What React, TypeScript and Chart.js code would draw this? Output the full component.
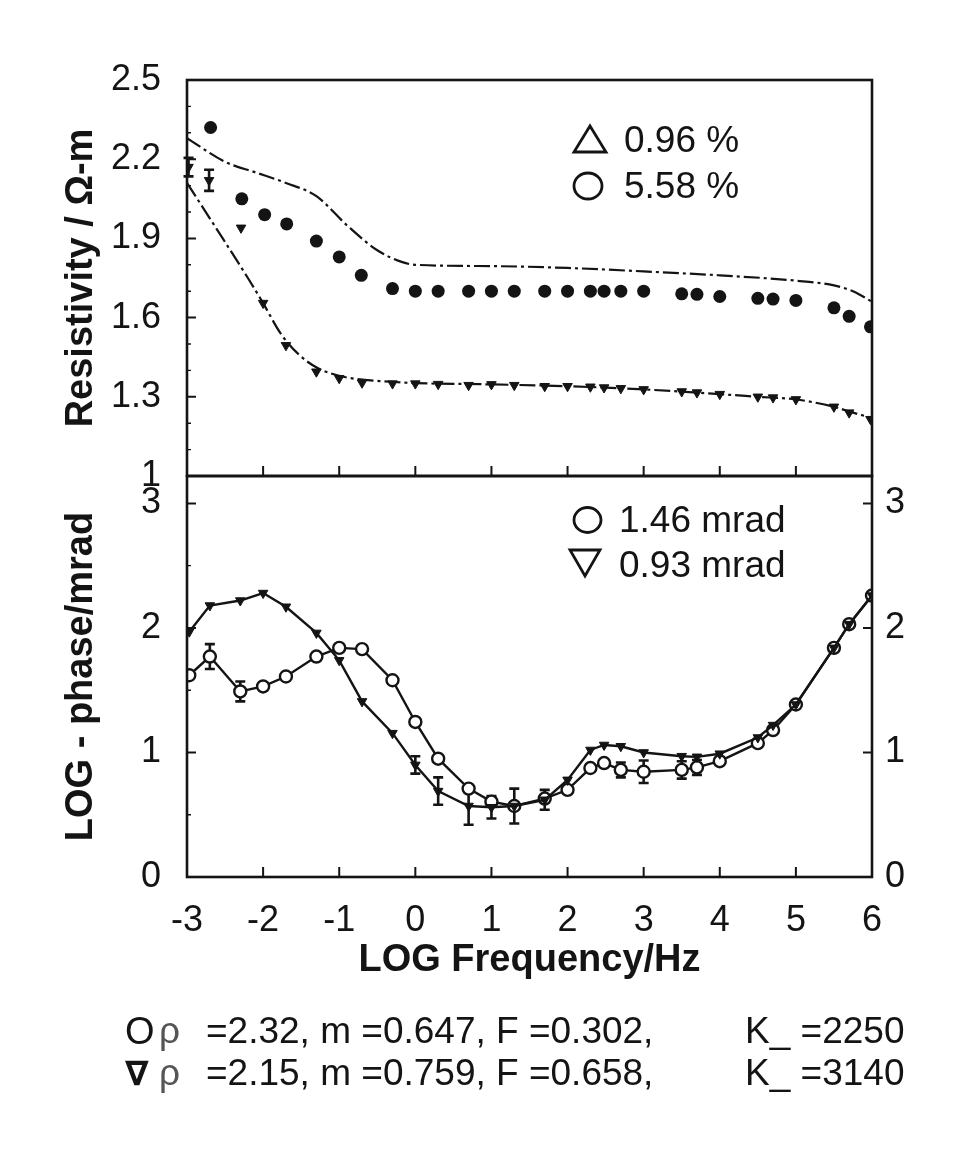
import React, { useEffect, useRef } from "react";
import { Chart, registerables } from "chart.js";

Chart.register(...registerables);

const FONT = "'Liberation Sans', Arial, Helvetica, sans-serif";
const INK = "#141414";

// ---------- axes / ticks ----------
const xTicks = [-3, -2, -1, 0, 1, 2, 3, 4, 5, 6];
const resTicks = [1, 1.3, 1.6, 1.9, 2.2, 2.5];
const resMinor = [1.1, 1.2, 1.4, 1.5, 1.7, 1.8, 2.0, 2.1, 2.3, 2.4];
const phaseTicks = [0, 1, 2, 3];
const phaseMinor = [0.5, 1.5, 2.5];

// ---------- top panel: resistivity ----------
const resCircleFreq = [-2.69, -2.28, -1.98, -1.69, -1.3, -1.0, -0.71, -0.3, 0.0, 0.3, 0.7, 1.0, 1.3, 1.7, 2.0, 2.3, 2.48, 2.7, 3.0, 3.5, 3.7, 4.0, 4.5, 4.7, 5.0, 5.5, 5.7, 5.98];
const resCircleVal = [2.32, 2.05, 1.99, 1.955, 1.89, 1.83, 1.76, 1.71, 1.7, 1.7, 1.7, 1.7, 1.7, 1.7, 1.7, 1.7, 1.7, 1.7, 1.7, 1.69, 1.688, 1.68, 1.673, 1.67, 1.665, 1.637, 1.605, 1.565];

const resTriFreq = [-2.98, -2.71, -2.29, -2.0, -1.7, -1.3, -1.0, -0.7, -0.3, 0.0, 0.3, 0.7, 1.0, 1.3, 1.7, 2.0, 2.3, 2.48, 2.7, 3.0, 3.5, 3.7, 4.0, 4.5, 4.7, 5.0, 5.5, 5.7, 5.98];
const resTriVal = [2.17, 2.12, 1.94, 1.655, 1.495, 1.395, 1.37, 1.353, 1.35, 1.35, 1.348, 1.344, 1.347, 1.344, 1.34, 1.34, 1.338, 1.335, 1.332, 1.328, 1.32, 1.316, 1.31, 1.3, 1.297, 1.29, 1.262, 1.24, 1.215];
const resTriErr = [0.035, 0.04, 0, 0, 0, 0, 0, 0, 0, 0, 0, 0, 0, 0, 0, 0, 0, 0, 0, 0, 0, 0, 0, 0, 0, 0, 0, 0, 0];

const fitUpperFreq = [-3, -2.5, -2.1, -1.7, -1.3, -0.9, -0.5, -0.17, 0, 1, 2, 3, 4, 5, 5.5, 5.75, 6];
const fitUpperVal = [2.28, 2.19, 2.15, 2.11, 2.06, 1.95, 1.855, 1.81, 1.8, 1.795, 1.788, 1.775, 1.76, 1.74, 1.722, 1.7, 1.66];
const fitLowerFreq = [-3, -2.62, -2.2, -2.0, -1.77, -1.53, -1.29, -0.93, -0.33, 0, 1, 2, 3, 4, 4.5, 5, 5.5, 5.75, 6];
const fitLowerVal = [2.11, 1.94, 1.75, 1.655, 1.54, 1.46, 1.41, 1.375, 1.357, 1.352, 1.347, 1.34, 1.328, 1.31, 1.3, 1.29, 1.262, 1.24, 1.22];

// ---------- bottom panel: phase ----------
const phaseFreq = [-2.97, -2.7, -2.3, -2.0, -1.7, -1.3, -1.0, -0.7, -0.3, 0.0, 0.3, 0.7, 1.0, 1.3, 1.7, 2.0, 2.3, 2.48, 2.7, 3.0, 3.5, 3.7, 4.0, 4.5, 4.7, 5.0, 5.5, 5.7, 6.0];
const phaseTriVal = [1.97, 2.18, 2.22, 2.28, 2.17, 1.96, 1.74, 1.41, 1.155, 0.9, 0.69, 0.57, 0.56, 0.57, 0.62, 0.78, 1.02, 1.06, 1.05, 1.0, 0.97, 0.965, 0.99, 1.12, 1.22, 1.385, 1.84, 2.03, 2.26];
const phaseTriErr = [0, 0, 0, 0, 0, 0, 0, 0, 0, 0.07, 0.11, 0.15, 0.09, 0.14, 0.08, 0, 0, 0, 0, 0, 0, 0, 0, 0, 0, 0, 0, 0, 0];
const phaseCircleVal = [1.62, 1.77, 1.49, 1.53, 1.61, 1.77, 1.84, 1.83, 1.58, 1.245, 0.95, 0.71, 0.605, 0.57, 0.63, 0.7, 0.875, 0.915, 0.86, 0.845, 0.86, 0.88, 0.93, 1.075, 1.18, 1.385, 1.84, 2.03, 2.26];
const phaseCircleErr = [0, 0.1, 0.08, 0, 0, 0, 0, 0, 0, 0, 0, 0, 0, 0, 0, 0, 0, 0, 0.06, 0.09, 0.07, 0.06, 0, 0, 0, 0, 0, 0, 0];

// ---------- text ----------
const resLegend = ["0.96 %", "5.58 %"];
const phaseLegend = ["1.46 mrad", "0.93 mrad"];
const paramLines = [
  { sym: "O", rest: "=2.32, m =0.647, F =0.302,", k: "K_ =2250" },
  { sym: "\u2207", rest: "=2.15, m =0.759, F =0.658,", k: "K_ =3140" },
];

const pts = (xs: number[], ys: number[]) => xs.map((x, i) => ({ x, y: ys[i] }));

type ErrSet = { xs: number[]; ys: number[]; errs: number[] };

function errorBarPlugin(sets: ErrSet[]) {
  return {
    id: "errorBars",
    beforeDatasetsDraw(chart: any) {
      const { ctx, scales } = chart;
      ctx.save();
      ctx.strokeStyle = INK;
      ctx.lineWidth = 2.6;
      for (const s of sets) {
        s.errs.forEach((e, i) => {
          if (!e) return;
          const px = scales.x.getPixelForValue(s.xs[i]);
          const top = scales.y.getPixelForValue(s.ys[i] + e);
          const bot = scales.y.getPixelForValue(s.ys[i] - e);
          ctx.beginPath();
          ctx.moveTo(px, top);
          ctx.lineTo(px, bot);
          ctx.moveTo(px - 5, top);
          ctx.lineTo(px + 5, top);
          ctx.moveTo(px - 5, bot);
          ctx.lineTo(px + 5, bot);
          ctx.stroke();
        });
      }
      ctx.restore();
    },
  };
}

function framePlugin(yMajor: number[], yMinor: number[], right: boolean) {
  return {
    id: "frameTicks",
    afterDatasetsDraw(chart: any) {
      const { ctx, chartArea: a, scales } = chart;
      ctx.save();
      ctx.strokeStyle = INK;
      ctx.lineWidth = 2.6;
      ctx.strokeRect(a.left, a.top, a.right - a.left, a.bottom - a.top);
      ctx.lineWidth = 2;
      ctx.beginPath();
      for (const v of xTicks) {
        const px = scales.x.getPixelForValue(v);
        ctx.moveTo(px, a.bottom);
        ctx.lineTo(px, a.bottom - 10);
      }
      for (const v of yMajor) {
        const py = scales.y.getPixelForValue(v);
        ctx.moveTo(a.left, py);
        ctx.lineTo(a.left + 9, py);
        if (right) {
          ctx.moveTo(a.right, py);
          ctx.lineTo(a.right - 9, py);
        }
      }
      ctx.stroke();
      ctx.lineWidth = 1.4;
      ctx.beginPath();
      for (const v of yMinor) {
        const py = scales.y.getPixelForValue(v);
        ctx.moveTo(a.left, py);
        ctx.lineTo(a.left + 4, py);
      }
      ctx.stroke();
      ctx.restore();
    },
  };
}

const tickFont = { family: FONT, size: 36 };
const titleFont = { family: FONT, size: 38, weight: "bold" as const };

function leftAxis(min: number, max: number, ticks: number[], title: string) {
  return {
    type: "linear" as const,
    position: "left" as const,
    min,
    max,
    afterBuildTicks: (s: any) => {
      s.ticks = ticks.map((v) => ({ value: v }));
    },
    afterFit: (s: any) => {
      s.width = 132;
    },
    grid: { display: false, drawTicks: false },
    border: { display: false },
    ticks: { padding: 26, color: INK, font: tickFont, callback: (v: any) => String(v) },
    title: { display: true, text: title, color: INK, font: titleFont, padding: { top: 4, bottom: 0 } },
  };
}

// Top canvas spans page y 30..526; plot area 80..476
function TopChart() {
  const ref = useRef<HTMLCanvasElement>(null);
  useEffect(() => {
    if (!ref.current) return;
    const chart = new Chart(ref.current, {
      type: "scatter",
      data: {
        datasets: [
          {
            data: pts(resCircleFreq, resCircleVal),
            showLine: false,
            pointRadius: 6.5,
            pointBackgroundColor: INK,
            pointBorderColor: INK,
            pointBorderWidth: 0,
          },
          {
            data: pts(resTriFreq, resTriVal),
            showLine: false,
            pointStyle: "triangle",
            pointRadius: 5.5,
            pointRotation: 180,
            pointBackgroundColor: INK,
            pointBorderColor: INK,
            pointBorderWidth: 1,
          },
          {
            data: pts(fitUpperFreq, fitUpperVal),
            showLine: true,
            pointRadius: 0,
            borderColor: INK,
            borderWidth: 2.2,
            borderDash: [16, 4, 3, 4],
            cubicInterpolationMode: "monotone",
          },
          {
            data: pts(fitLowerFreq, fitLowerVal),
            showLine: true,
            pointRadius: 0,
            borderColor: INK,
            borderWidth: 2.2,
            borderDash: [16, 4, 3, 4],
            cubicInterpolationMode: "monotone",
          },
        ],
      } as any,
      options: {
        animation: false,
        responsive: false,
        events: [],
        layout: { padding: { left: 55, right: 92, top: 50, bottom: 50 } },
        plugins: { legend: { display: false }, tooltip: { enabled: false } },
        scales: {
          x: { type: "linear", min: -3, max: 6, display: false },
          y: leftAxis(1, 2.5, resTicks, "Resistivity / \u03A9-m"),
        },
      } as any,
      plugins: [
        errorBarPlugin([{ xs: resTriFreq, ys: resTriVal, errs: resTriErr }]),
        framePlugin(resTicks, resMinor, false),
      ],
    });
    return () => chart.destroy();
  }, []);
  return (
    <canvas
      ref={ref}
      width={964}
      height={496}
      style={{ position: "absolute", left: 0, top: 30, width: 964, height: 496 }}
    />
  );
}

// Bottom canvas spans page y 426..1000; plot area 476..877
function BottomChart() {
  const ref = useRef<HTMLCanvasElement>(null);
  useEffect(() => {
    if (!ref.current) return;
    const chart = new Chart(ref.current, {
      type: "scatter",
      data: {
        datasets: [
          {
            data: pts(phaseFreq, phaseTriVal),
            showLine: true,
            borderColor: INK,
            borderWidth: 2.4,
            pointStyle: "triangle",
            pointRadius: 5.5,
            pointRotation: 180,
            pointBackgroundColor: INK,
            pointBorderColor: INK,
            pointBorderWidth: 1,
          },
          {
            data: pts(phaseFreq, phaseCircleVal),
            showLine: true,
            borderColor: INK,
            borderWidth: 2.4,
            pointRadius: 6,
            pointBackgroundColor: "#ffffff",
            pointBorderColor: INK,
            pointBorderWidth: 2.4,
          },
        ],
      } as any,
      options: {
        animation: false,
        responsive: false,
        events: [],
        layout: { padding: { left: 55, right: 0, top: 50, bottom: 0 } },
        plugins: { legend: { display: false }, tooltip: { enabled: false } },
        scales: {
          x: {
            type: "linear",
            position: "bottom",
            min: -3,
            max: 6,
            afterBuildTicks: (s: any) => {
              s.ticks = xTicks.map((v) => ({ value: v }));
            },
            afterFit: (s: any) => {
              s.height = 123;
            },
            grid: { display: false, drawTicks: false },
            border: { display: false },
            ticks: {
              padding: 22,
              color: INK,
              font: tickFont,
              autoSkip: false,
              maxRotation: 0,
              minRotation: 0,
              callback: (v: any) => String(v),
            },
            title: {
              display: true,
              text: "LOG Frequency/Hz",
              color: INK,
              font: titleFont,
              padding: { top: 0, bottom: 17 },
            },
          },
          y: leftAxis(0, 3.22, phaseTicks, "LOG - phase/mrad"),
          y2: {
            type: "linear",
            position: "right",
            min: 0,
            max: 3.22,
            afterBuildTicks: (s: any) => {
              s.ticks = phaseTicks.map((v) => ({ value: v }));
            },
            afterFit: (s: any) => {
              s.width = 92;
            },
            grid: { display: false, drawTicks: false },
            border: { display: false },
            ticks: { padding: 13, color: INK, font: tickFont, callback: (v: any) => String(v) },
          },
        },
      } as any,
      plugins: [
        errorBarPlugin([
          { xs: phaseFreq, ys: phaseTriVal, errs: phaseTriErr },
          { xs: phaseFreq, ys: phaseCircleVal, errs: phaseCircleErr },
        ]),
        framePlugin(phaseTicks, phaseMinor, true),
      ],
    });
    return () => chart.destroy();
  }, []);
  return (
    <canvas
      ref={ref}
      width={964}
      height={574}
      style={{ position: "absolute", left: 0, top: 426, width: 964, height: 574 }}
    />
  );
}

function Txt(props: {
  x: number;
  base: number;
  size: number;
  children: React.ReactNode;
  family?: string;
  weight?: number | string;
  color?: string;
}) {
  const { x, base, size, children, family = FONT, weight = "normal", color = INK } = props;
  return (
    <div
      style={{
        position: "absolute",
        left: x,
        top: base - 0.8465 * size,
        fontFamily: family,
        fontSize: size,
        lineHeight: `${size}px`,
        fontWeight: weight as any,
        color,
        whiteSpace: "pre",
      }}
    >
      {children}
    </div>
  );
}

export default function App() {
  return (
    <div
      style={{
        position: "absolute",
        left: 0,
        top: 0,
        width: 964,
        height: 1157,
        background: "#ffffff",
        overflow: "hidden",
      }}
    >
      <TopChart />
      <BottomChart />

      <svg
        width={964}
        height={1157}
        style={{ position: "absolute", left: 0, top: 0, pointerEvents: "none" }}
      >
        <polygon points="590,126 606,152 574,152" fill="none" stroke={INK} strokeWidth={2.8} strokeLinejoin="miter" />
        <ellipse cx={588} cy={186} rx={14} ry={13} fill="none" stroke={INK} strokeWidth={2.8} />
        <ellipse cx={587.5} cy={520} rx={13.5} ry={12.5} fill="none" stroke={INK} strokeWidth={2.8} />
        <polygon points="570,550 600,550 585,576" fill="none" stroke={INK} strokeWidth={2.8} strokeLinejoin="miter" />
      </svg>

      <Txt x={624} base={152} size={37}>{resLegend[0]}</Txt>
      <Txt x={624} base={198} size={37}>{resLegend[1]}</Txt>
      <Txt x={619} base={532} size={37}>{phaseLegend[0]}</Txt>
      <Txt x={619} base={577} size={37}>{phaseLegend[1]}</Txt>

      {paramLines.map((ln, i) => {
        const base = i === 0 ? 1043 : 1085;
        return (
          <React.Fragment key={i}>
            {i === 0 ? (
              <Txt x={125} base={base + 1} size={38}>{ln.sym}</Txt>
            ) : (
              <Txt x={125} base={base} size={34} family="'DejaVu Sans', sans-serif" weight="bold">{ln.sym}</Txt>
            )}
            <Txt x={159} base={base} size={37} color="#555555">{"\u03C1"}</Txt>
            <Txt x={206} base={base} size={37}>{ln.rest}</Txt>
            <Txt x={745} base={base} size={37}>{ln.k}</Txt>
          </React.Fragment>
        );
      })}
    </div>
  );
}
